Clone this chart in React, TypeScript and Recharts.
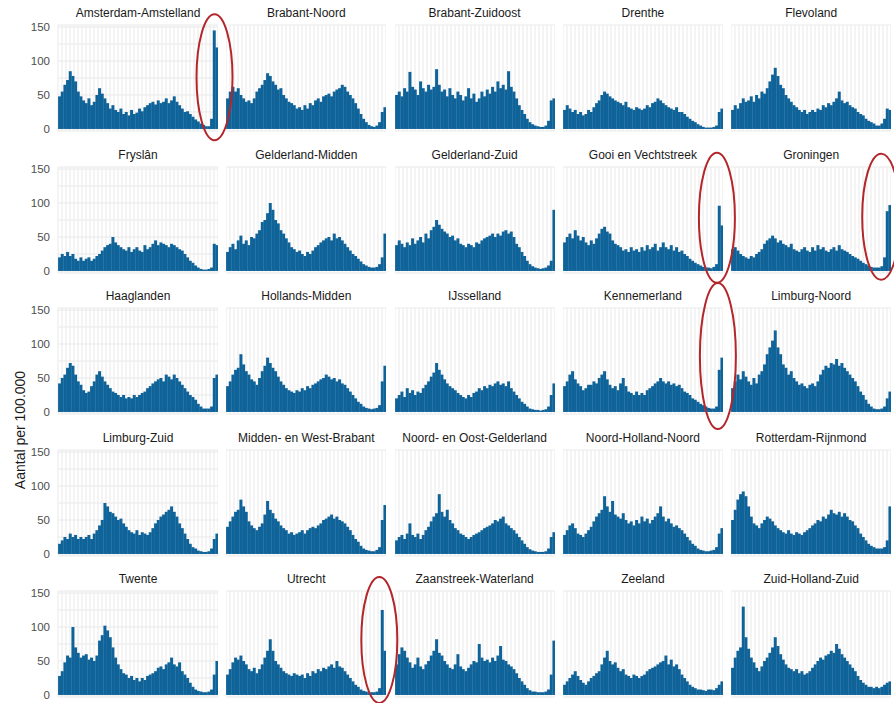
import React from 'react';
import { BarChart, Bar, XAxis, YAxis, CartesianGrid } from 'recharts';

// ---------- data ----------
const regions = [
  'Amsterdam-Amstelland', 'Brabant-Noord', 'Brabant-Zuidoost', 'Drenthe', 'Flevoland',
  'Fryslân', 'Gelderland-Midden', 'Gelderland-Zuid', 'Gooi en Vechtstreek', 'Groningen',
  'Haaglanden', 'Hollands-Midden', 'IJsselland', 'Kennemerland', 'Limburg-Noord',
  'Limburg-Zuid', 'Midden- en West-Brabant', 'Noord- en Oost-Gelderland', 'Noord-Holland-Noord', 'Rotterdam-Rijnmond',
  'Twente', 'Utrecht', 'Zaanstreek-Waterland', 'Zeeland', 'Zuid-Holland-Zuid',
];

const amsterdamAmstelland = [48,55,65,72,85,78,70,55,48,42, 38,45,35,40,50,60,52,45,38,30, 35,28,25,30,22,25,20,28,22,24, 30,26,32,35,38,40,36,42,38,40, 45,38,42,48,40,35,30,25,26,22, 18,14,11,8,6,4,4,15,145,120];
const brabantNoord = [45,55,62,55,60,50,45,40,42,38, 45,55,60,65,72,82,78,70,65,58, 60,50,45,40,38,35,30,32,28,35, 30,38,35,42,45,40,48,50,52,48, 55,58,60,65,62,55,50,45,38,30, 22,15,10,6,4,3,5,10,25,32];
const brabantZuidoost = [50,55,48,60,55,84,62,58,50,70, 60,55,65,58,62,88,65,55,58,48, 60,50,45,55,50,42,48,60,45,52, 40,45,55,48,58,52,62,55,70,60, 65,58,85,62,55,45,35,28,22,15, 10,7,5,4,3,3,5,12,42,45];
const drenthe = [28,35,30,25,28,22,25,20,22,28, 25,32,38,42,50,55,52,48,45,42, 40,38,35,40,32,30,28,32,30,28, 30,35,32,38,40,45,42,38,35,32, 30,28,32,25,25,22,18,15,12,10, 7,5,3,2,2,2,3,5,25,30];
const flevoland = [28,35,30,38,45,40,42,48,40,50, 45,55,52,60,70,80,90,78,65,60, 50,45,40,35,32,28,25,28,22,25, 28,25,30,28,35,32,38,35,40,45, 55,42,38,40,35,32,30,25,22,20, 15,12,10,8,5,5,8,15,30,28];
const fryslan = [20,25,22,28,22,25,18,15,20,15, 18,20,15,18,22,25,30,35,38,40, 50,42,38,35,32,30,35,28,32,35, 30,28,38,32,35,40,45,38,42,40, 38,35,40,38,35,32,30,25,20,15, 12,8,5,3,2,2,3,5,40,38];
const gelderlandMidden = [28,35,40,32,45,52,40,45,38,50, 48,55,60,72,75,85,100,90,75,70, 60,55,48,42,35,32,28,30,25,22, 28,25,30,35,38,42,45,48,50,45, 55,48,50,45,40,35,30,25,22,18, 14,10,8,6,5,5,6,10,20,55];
const gelderlandZuid = [38,45,40,35,42,38,48,40,45,50, 42,55,48,60,65,75,68,62,58,55, 50,52,45,48,40,38,35,40,38,35, 42,40,45,48,50,52,55,50,55,52, 58,60,55,58,50,40,35,28,22,15, 10,7,5,4,3,4,5,8,15,90];
const gooiEnVechtstreek = [42,50,55,48,60,52,45,50,42,38, 45,40,48,55,62,65,58,55,45,40, 38,35,30,32,28,35,30,32,28,35, 30,38,32,35,40,30,35,42,35,32, 38,30,35,28,30,25,22,18,15,12, 10,8,6,5,5,4,6,10,96,67];
const groningen = [32,35,30,25,22,20,18,22,20,25, 28,32,40,45,48,52,48,42,45,40, 38,35,40,32,30,28,32,35,30,28, 35,30,38,32,35,30,28,32,35,30, 38,32,30,28,25,22,20,18,15,12, 10,8,6,5,5,5,7,20,88,97];
const haaglanden = [42,50,55,65,72,68,55,45,40,32, 28,30,38,45,55,60,52,45,40,35, 30,28,25,22,25,20,22,20,25,22, 25,28,30,35,38,42,45,48,50,45, 55,52,48,55,50,45,40,35,30,25, 22,18,12,8,5,5,5,8,50,55];
const hollandsMidden = [38,45,55,62,65,85,70,60,55,48, 45,40,50,60,68,80,72,65,60,52, 45,40,35,32,30,28,32,30,35,32, 38,35,40,42,45,48,50,55,52,48, 50,45,48,42,40,35,30,25,20,15, 12,8,6,5,4,5,6,10,45,68];
const ijsselland = [20,25,30,22,35,28,32,25,30,28, 35,40,45,52,58,72,62,55,48,42, 38,35,32,28,25,22,20,25,22,28, 30,35,32,38,35,40,38,42,45,40, 42,38,45,35,30,25,20,15,12,8, 5,4,3,3,2,3,4,8,25,42];
const kennemerland = [38,45,55,60,48,42,38,32,35,40, 40,45,42,50,55,60,48,40,35,38, 32,42,50,38,30,28,25,30,25,28, 25,32,35,38,42,45,50,45,42,45, 40,42,38,40,35,30,28,25,20,18, 15,12,10,8,6,5,5,8,62,80];
const limburgNoord = [35,45,55,48,60,52,45,40,50,42, 55,60,70,85,95,105,120,95,85,70, 65,55,60,50,45,40,42,38,35,40, 42,38,45,55,62,68,65,72,70,78, 68,72,65,60,55,50,45,38,30,25, 18,12,8,5,4,4,5,8,20,30];
const limburgZuid = [15,20,25,22,30,25,28,22,25,22, 25,28,22,30,35,42,50,75,70,62, 60,55,50,52,45,40,35,32,30,35, 28,32,30,28,32,38,45,50,55,58, 62,65,70,62,55,45,38,30,22,15, 10,8,5,4,3,3,4,8,22,30];
const middenWestBrabant = [40,48,55,62,65,80,70,62,48,42, 38,35,40,45,58,78,65,60,52,48, 42,38,35,30,32,28,30,32,35,30, 35,38,40,38,42,45,50,52,55,58, 52,55,50,48,45,40,35,28,22,18, 12,8,6,5,4,4,6,10,50,72];
const noordOostGelderland = [20,25,28,22,30,45,28,25,30,22, 28,35,40,48,55,60,88,62,55,65, 50,45,38,35,30,28,25,22,25,28, 30,32,35,38,40,42,45,50,48,52, 55,45,42,38,35,30,25,20,15,10, 7,5,4,3,3,3,4,8,25,32];
const noordHollandNoord = [28,35,42,45,38,30,28,25,30,35, 40,48,55,60,65,85,70,62,78,58, 55,52,60,50,45,48,42,50,45,55, 48,52,45,50,55,60,70,55,48,52, 45,40,42,38,35,30,25,20,15,12, 8,6,5,4,4,5,6,10,30,38];
const rotterdamRijnmond = [50,65,80,88,92,85,70,55,45,42, 38,45,50,55,52,48,42,38,35,32, 30,35,30,28,32,30,28,32,35,38, 42,45,50,48,55,52,58,65,60,58, 62,55,60,55,50,48,42,38,30,25, 20,15,12,10,8,8,8,10,20,70];
const twente = [28,35,48,58,55,100,70,62,55,58, 60,52,55,50,58,80,88,102,95,85, 70,55,45,38,32,30,25,28,22,25, 20,25,22,28,30,32,35,40,42,38, 45,48,55,45,42,48,35,30,25,18, 12,8,6,5,4,4,5,8,30,50];
const utrecht = [30,38,48,55,52,58,50,45,38,35, 40,32,38,45,55,65,82,65,50,45, 40,35,32,30,28,32,30,28,30,25, 32,28,35,32,38,35,40,38,42,45, 40,50,42,40,35,30,25,20,15,12, 8,6,5,4,4,4,5,10,125,65];
const zaanstreekWaterland = [45,60,70,65,55,48,40,45,55,42, 38,45,50,58,65,82,62,58,50,45, 40,38,45,60,42,38,35,40,45,50, 48,75,55,50,52,48,55,50,58,72, 52,50,45,42,38,32,25,20,15,10, 7,5,5,4,4,4,5,8,30,80];
const zeeland = [15,20,25,30,35,28,22,18,15,20, 25,28,32,35,45,55,65,50,45,48, 40,35,38,30,28,25,30,28,25,28, 30,35,38,40,42,45,48,50,58,45, 52,42,45,38,30,25,20,15,12,10, 8,8,7,6,8,8,7,10,15,20];
const zuidHollandZuid = [40,55,65,70,130,85,68,55,48,40, 35,42,50,55,62,70,85,72,60,52, 45,40,38,35,38,32,35,30,32,35, 40,45,50,55,52,58,60,65,62,75, 68,60,55,50,45,40,35,28,22,18, 15,12,12,10,12,10,12,15,18,20];

const seriesList = [
  amsterdamAmstelland, brabantNoord, brabantZuidoost, drenthe, flevoland,
  fryslan, gelderlandMidden, gelderlandZuid, gooiEnVechtstreek, groningen,
  haaglanden, hollandsMidden, ijsselland, kennemerland, limburgNoord,
  limburgZuid, middenWestBrabant, noordOostGelderland, noordHollandNoord, rotterdamRijnmond,
  twente, utrecht, zaanstreekWaterland, zeeland, zuidHollandZuid,
];

const yGridTicks = [0, 25, 50, 75, 100, 125, 150];
const yLabelTicks = [0, 50, 100, 150];
const yAxisTitle = 'Aantal per 100.000';

// highlighted regions with annotation ellipses
const highlights = [
  { region: 'Amsterdam-Amstelland', dx: -3.5, dy: 52, rx: 18, ry: 63 },
  { region: 'Gooi en Vechtstreek', dx: -6, dy: 51, rx: 18, ry: 65 },
  { region: 'Groningen', dx: -10, dy: 50, rx: 19, ry: 63 },
  { region: 'Kennemerland', dx: -5, dy: 48, rx: 18, ry: 73 },
  { region: 'Utrecht', dx: -7, dy: 49, rx: 18, ry: 63 },
];

// ---------- layout ----------
const FONT = "'Liberation Sans', Arial, Helvetica, sans-serif";
const COL0 = 58;
const COL_STEP = 168.3;
const PLOT_W = 160;
const ROW0 = 25.3;
const ROW_STEP = 141.4;
const PLOT_H = 106;
const PAD = 10;
const Y_AXIS_W = 58;
const BAR_COLOR = '#0f6398';
const GRID_COLOR = '#e9e9e9';

const gridGen = (props: any) => {
  const off = props && props.offset ? props.offset : { left: 0, width: props?.width ?? PLOT_W };
  const n = 40;
  const out: number[] = [];
  for (let k = 0; k <= n; k++) out.push(off.left + (off.width * k) / n);
  return out;
};

function Panel({ name, values, idx }: { name: string; values: number[]; idx: number }) {
  const col = idx % 5;
  const row = Math.floor(idx / 5);
  const first = col === 0;
  const plotLeft = COL0 + col * COL_STEP;
  const plotTop = ROW0 + row * ROW_STEP;
  const chartLeft = first ? plotLeft - Y_AXIS_W : plotLeft;
  const chartW = first ? PLOT_W + Y_AXIS_W : PLOT_W;
  const data = values.map((v, i) => ({ i, v }));
  return (
    <>
      <div
        style={{
          position: 'absolute', left: plotLeft, top: plotTop - 19, width: PLOT_W,
          textAlign: 'center', fontSize: 12, lineHeight: '15px', color: '#1a1a1a',
          whiteSpace: 'nowrap', fontFamily: FONT,
        }}
      >
        {name}
      </div>
      <div style={{ position: 'absolute', left: chartLeft, top: plotTop - PAD }}>
        <BarChart
          width={chartW}
          height={PLOT_H + 2 * PAD}
          data={data}
          margin={{ top: PAD, right: 0, bottom: PAD, left: 0 }}
          barCategoryGap="3%"
        >
          <CartesianGrid stroke={GRID_COLOR} strokeWidth={1} verticalCoordinatesGenerator={gridGen} />
          <XAxis dataKey="i" hide />
          <YAxis
            type="number"
            domain={[-3, 153]}
            ticks={yGridTicks}
            width={first ? Y_AXIS_W : 0}
            axisLine={false}
            tickLine={false}
            interval={0}
            tickFormatter={(v: number) => (yLabelTicks.includes(v) ? String(v) : '')}
            tick={first ? { fontSize: 11.5, fill: '#4d4d4d', fontFamily: FONT } : false}
          />
          <Bar dataKey="v" fill={BAR_COLOR} isAnimationActive={false} />
        </BarChart>
      </div>
    </>
  );
}

export default function App() {
  return (
    <div
      style={{
        position: 'absolute', left: 0, top: 0, width: 894, height: 703,
        background: '#ffffff', overflow: 'hidden', fontFamily: FONT,
      }}
    >
      {regions.map((name, idx) => (
        <Panel key={name} name={name} values={seriesList[idx]} idx={idx} />
      ))}
      <div
        style={{
          position: 'absolute', left: 20, top: 430, fontSize: 14, color: '#1a1a1a',
          whiteSpace: 'nowrap', transform: 'translate(-50%, -50%) rotate(-90deg)', fontFamily: FONT,
        }}
      >
        {yAxisTitle}
      </div>
      <svg
        width={894}
        height={703}
        style={{ position: 'absolute', left: 0, top: 0, pointerEvents: 'none', zIndex: 5 }}
      >
        {highlights.map((h) => {
          const idx = regions.indexOf(h.region);
          const col = idx % 5;
          const row = Math.floor(idx / 5);
          const cx = COL0 + col * COL_STEP + PLOT_W + h.dx;
          const cy = ROW0 + row * ROW_STEP + h.dy;
          return (
            <ellipse key={h.region} cx={cx} cy={cy} rx={h.rx} ry={h.ry} fill="none" stroke="#b3262b" strokeWidth={2} />
          );
        })}
      </svg>
    </div>
  );
}
